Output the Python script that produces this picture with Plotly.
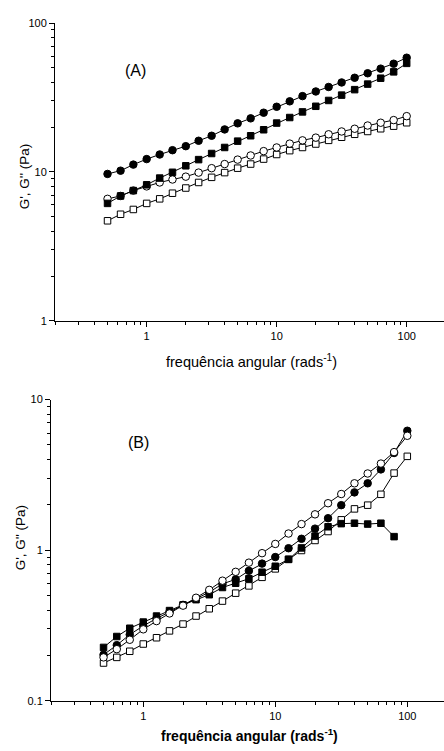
import plotly.graph_objects as go

# Angular frequency (rad/s), 10 points per decade from 0.5 to 100
freq = [0.5, 0.63, 0.79, 1.0, 1.26, 1.58, 2.0, 2.51, 3.16, 3.98, 5.01, 6.31,
        7.94, 10.0, 12.6, 15.8, 20.0, 25.1, 31.6, 39.8, 50.1, 63.1, 79.4, 100.0]

# Panel A
a_filled_circle = [9.7, 10.2, 11.2, 12.2, 13.1, 14.0, 14.9, 16.2, 17.5, 19.3, 21.2, 22.9,
                   25.0, 27.4, 29.8, 32.3, 34.7, 37.2, 39.9, 42.9, 46.0, 49.4, 53.3, 58.5]
a_filled_square = [6.15, 6.9, 7.5, 8.2, 9.1, 9.95, 11.0, 12.1, 13.3, 14.6, 16.1, 17.5,
                   19.2, 21.3, 23.2, 25.3, 27.6, 30.2, 32.8, 35.7, 38.9, 42.6, 47.0, 53.6]
a_open_circle = [6.6, 6.9, 7.5, 8.0, 8.5, 8.9, 9.3, 9.9, 10.6, 11.3, 12.1, 12.9,
                 13.8, 14.6, 15.5, 16.3, 17.0, 17.9, 18.7, 19.5, 20.5, 21.4, 22.3, 23.7]
a_open_square = [4.7, 5.2, 5.6, 6.15, 6.6, 7.2, 7.8, 8.5, 9.2, 9.9, 10.6, 11.3,
                 12.2, 13.1, 13.9, 14.6, 15.4, 16.3, 17.1, 17.9, 18.7, 19.5, 20.3, 21.4]

# Panel B
b_filled_square = [0.226, 0.267, 0.303, 0.333, 0.365, 0.397, 0.433, 0.469, 0.506, 0.565, 0.603, 0.646,
                   0.714, 0.782, 0.869, 1.035, 1.24, 1.43, 1.50, 1.51, 1.49, 1.51, 1.23]
b_filled_circle = [0.202, 0.234, 0.275, 0.314, 0.352, 0.389, 0.433, 0.476, 0.526, 0.597, 0.640, 0.729,
                   0.814, 0.900, 1.03, 1.19, 1.39, 1.63, 1.99, 2.42, 2.78, 3.44, 4.42, 6.21]
b_open_circle = [0.194, 0.220, 0.254, 0.298, 0.338, 0.380, 0.428, 0.483, 0.545, 0.627, 0.718, 0.826,
                 0.955, 1.10, 1.29, 1.49, 1.73, 2.05, 2.36, 2.78, 3.23, 3.76, 4.48, 5.75]
b_open_square = [0.178, 0.194, 0.213, 0.238, 0.262, 0.291, 0.323, 0.365, 0.408, 0.459, 0.518, 0.579,
                 0.660, 0.751, 0.869, 0.995, 1.16, 1.33, 1.59, 1.88, 1.99, 2.35, 3.25, 4.20]

W, H = 444, 751
FONT = "Liberation Sans, Arial, sans-serif"

fig = go.Figure()


def add_series(x, y, symbol, filled, xa, ya):
    size = 7.5 if "circle" in symbol else 6.5
    fig.add_trace(go.Scatter(
        x=x, y=y, mode="lines+markers", xaxis=xa, yaxis=ya,
        line=dict(color="black", width=1),
        marker=dict(symbol=symbol, size=size,
                    color="black" if filled else "white",
                    line=dict(color="black", width=1)),
        showlegend=False, hoverinfo="skip",
    ))


# Panel A (draw order: open first, filled on top)
add_series(freq, a_open_square, "square", False, "x", "y")
add_series(freq, a_open_circle, "circle", False, "x", "y")
add_series(freq, a_filled_square, "square", True, "x", "y")
add_series(freq, a_filled_circle, "circle", True, "x", "y")

# Panel B
add_series(freq, b_open_square, "square", False, "x2", "y2")
add_series(freq[:len(b_filled_square)], b_filled_square, "square", True, "x2", "y2")
add_series(freq, b_filled_circle, "circle", True, "x2", "y2")
add_series(freq, b_open_circle, "circle", False, "x2", "y2")


def px_x(p):
    return p / W


def px_y(p):
    return (H - p) / H


def axis_common():
    return dict(
        type="log", showgrid=False, zeroline=False,
        showline=True, linecolor="black", linewidth=1,
        ticks="outside", ticklen=5, tickwidth=1, tickcolor="black",
        tickfont=dict(family=FONT, size=11, color="black"),
        dtick=1,
        minor=dict(ticks="outside", ticklen=3, tickwidth=1, tickcolor="black",
                   dtick="D1", showgrid=False),
    )


xa = axis_common()
xa.update(domain=[px_x(55), 1.0], range=[-0.705, 2.287], anchor="y")
ya = axis_common()
ya.update(domain=[px_y(320), px_y(17.3)], range=[0, 2], anchor="x")

xb = axis_common()
xb.update(domain=[px_x(51), 1.0], range=[-0.699, 2.278], anchor="y2")
yb = axis_common()
yb.update(domain=[px_y(706), px_y(400)], range=[-1, 1], anchor="x2",
          tickvals=[0.1, 1, 10], ticktext=["0.1", "1", "10"])


def note(text, x, y, size, angle=0):
    return dict(text=text, x=px_x(x), y=px_y(y), xref="paper", yref="paper",
                xanchor="center", yanchor="middle", textangle=angle,
                showarrow=False, font=dict(family=FONT, size=size, color="black"))


annotations = [
    note("(A)", 135.5, 66, 16),
    note("(B)", 138, 444, 16),
    note("frequência angular (rads<sup>-1</sup>)", 251, 361, 14.5),
    note("<b>frequência angular (rads<sup>-1</sup>)</b>", 249, 741, 14),
    note("G', G'' (Pa)", 24, 173, 13.5, -90),
    note("G', G'' (Pa)", 20, 540, 13.5, -90),
]

fig.update_layout(
    width=W, height=H,
    margin=dict(l=0, r=0, t=0, b=0),
    paper_bgcolor="white", plot_bgcolor="white",
    xaxis=xa, yaxis=ya, xaxis2=xb, yaxis2=yb,
    annotations=annotations,
    hovermode=False,
)

fig.write_html(
    "out.html",
    config={"displayModeBar": False, "staticPlot": True},
    post_script="document.body.style.margin='0px';document.body.style.overflow='hidden';",
)
